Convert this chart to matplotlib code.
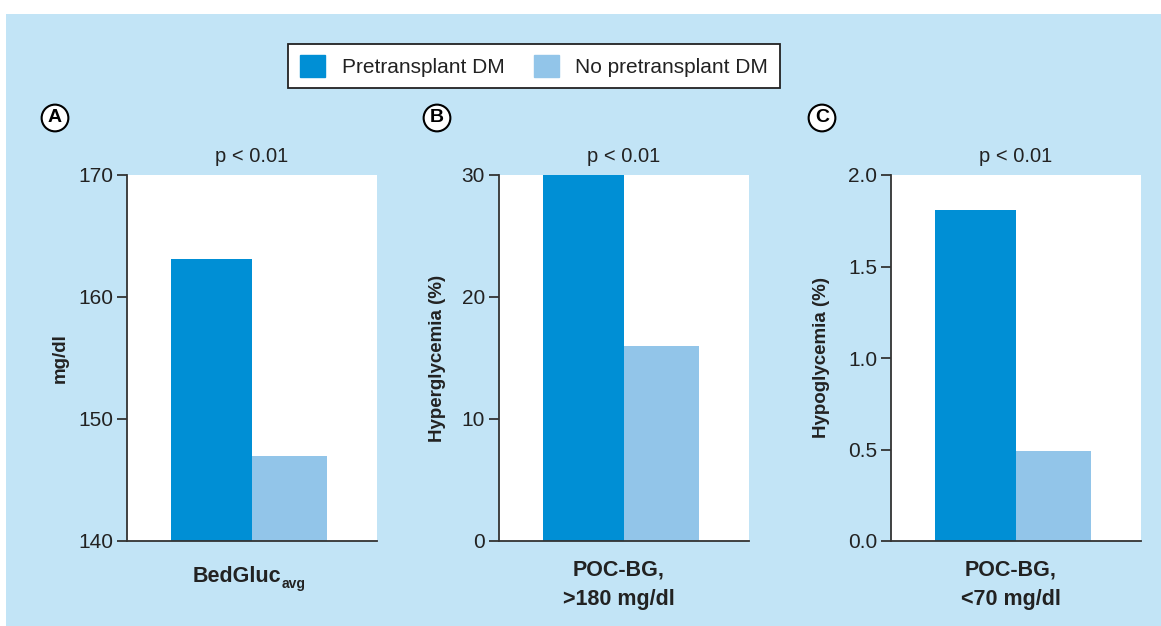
import matplotlib
matplotlib.use("Agg")
import matplotlib.pyplot as plt
from matplotlib.patches import Rectangle

plt.rcParams["font.family"] = ["Liberation Sans", "DejaVu Sans"]

# Data
series = ["Pretransplant DM", "No pretransplant DM"]
panels = ["A", "B", "C"]
categories = ["BedGluc", "POC-BG,\n>180 mg/dl", "POC-BG,\n<70 mg/dl"]
ylabels = ["mg/dl", "Hyperglycemia (%)", "Hypoglycemia (%)"]
pre_dm = [163.1, 30.0, 1.81]
no_pre_dm = [147.0, 16.0, 0.49]
yticks = [[140, 150, 160, 170], [0, 10, 20, 30], [0.0, 0.5, 1.0, 1.5, 2.0]]
ytick_labels = [["140", "150", "160", "170"], ["0", "10", "20", "30"],
                ["0.0", "0.5", "1.0", "1.5", "2.0"]]
pvalues = ["p < 0.01", "p < 0.01", "p < 0.01"]

W, H = 1161, 626
dark = "#008fd5"
light = "#92c5e9"
bg = "#c2e4f6"
ink = "#222222"

fig = plt.figure(figsize=(W / 100, H / 100), dpi=100)
fig.patch.set_facecolor("white")
fig.patches.append(Rectangle((6 / W, 0), 1, 1 - 14 / H, transform=fig.transFigure,
                             facecolor=bg, edgecolor="none", zorder=-10))

lefts = [127, 499, 891]
top, bottom, width = 175, 541, 250
label_x = [55, 437, 822]
ylab_x = [60, 437, 822]

for i in range(3):
    ax = fig.add_axes([lefts[i] / W, 1 - bottom / H, width / W, (bottom - top) / H])
    ax.set_facecolor("white")
    ax.bar(0.176, pre_dm[i], width=0.324, align="edge", color=dark, bottom=0)
    ax.bar(0.5, no_pre_dm[i], width=0.3, align="edge", color=light, bottom=0)
    ax.set_xlim(0, 1)
    ax.set_ylim(yticks[i][0], yticks[i][-1])
    ax.set_yticks(yticks[i])
    ax.set_yticklabels(ytick_labels[i])
    ax.set_xticks([])
    for s in ["top", "right"]:
        ax.spines[s].set_visible(False)
    for s in ["left", "bottom"]:
        ax.spines[s].set_color("#333333")
        ax.spines[s].set_linewidth(1.3)
    ax.tick_params(axis="y", direction="out", length=7, width=1.3, color="#333333",
                   labelsize=15, labelcolor=ink, pad=3)
    ax.set_title(pvalues[i], fontsize=14.5, color=ink, pad=9)
    fig.text(ylab_x[i] / W, 1 - 358 / H, ylabels[i], rotation=90, ha="center", va="center",
             fontsize=13.5, fontweight="bold", color=ink)
    cx = (lefts[i] + width / 2 - 5) / W
    if i == 0:
        fig.text(cx - 10 / W, 1 - 577 / H, categories[i], ha="center", va="center",
                 fontsize=15.5, fontweight="bold", color=ink)
        fig.text(cx + 35 / W, 1 - 584 / H, "avg", ha="left", va="center",
                 fontsize=10, fontweight="bold", color=ink)
    else:
        fig.text(cx, 1 - 585 / H, categories[i], ha="center", va="center",
                 fontsize=15.5, fontweight="bold", color=ink, linespacing=1.55)
    fig.text(label_x[i] / W, 1 - 118 / H, panels[i], ha="center", va="center",
             fontsize=14, fontweight="bold", color="black",
             bbox=dict(boxstyle="circle,pad=0.25", facecolor="white",
                       edgecolor="black", linewidth=1.5))

# Legend
handles = [Rectangle((0, 0), 1, 1, color=dark), Rectangle((0, 0), 1, 1, color=light)]
leg = fig.legend(handles, series, loc="center", bbox_to_anchor=(534 / W, 1 - 66 / H),
                 ncol=2, fontsize=15, frameon=True, fancybox=False, handlelength=1.2,
                 handleheight=1.2, handletextpad=0.8, columnspacing=1.4,
                 borderpad=0.55, labelcolor=ink)
leg.get_frame().set_edgecolor("#222222")
leg.get_frame().set_linewidth(1.3)
leg.get_frame().set_facecolor("white")
leg.get_frame().set_alpha(1)

fig.savefig("out.png", dpi=100, facecolor=fig.get_facecolor())
